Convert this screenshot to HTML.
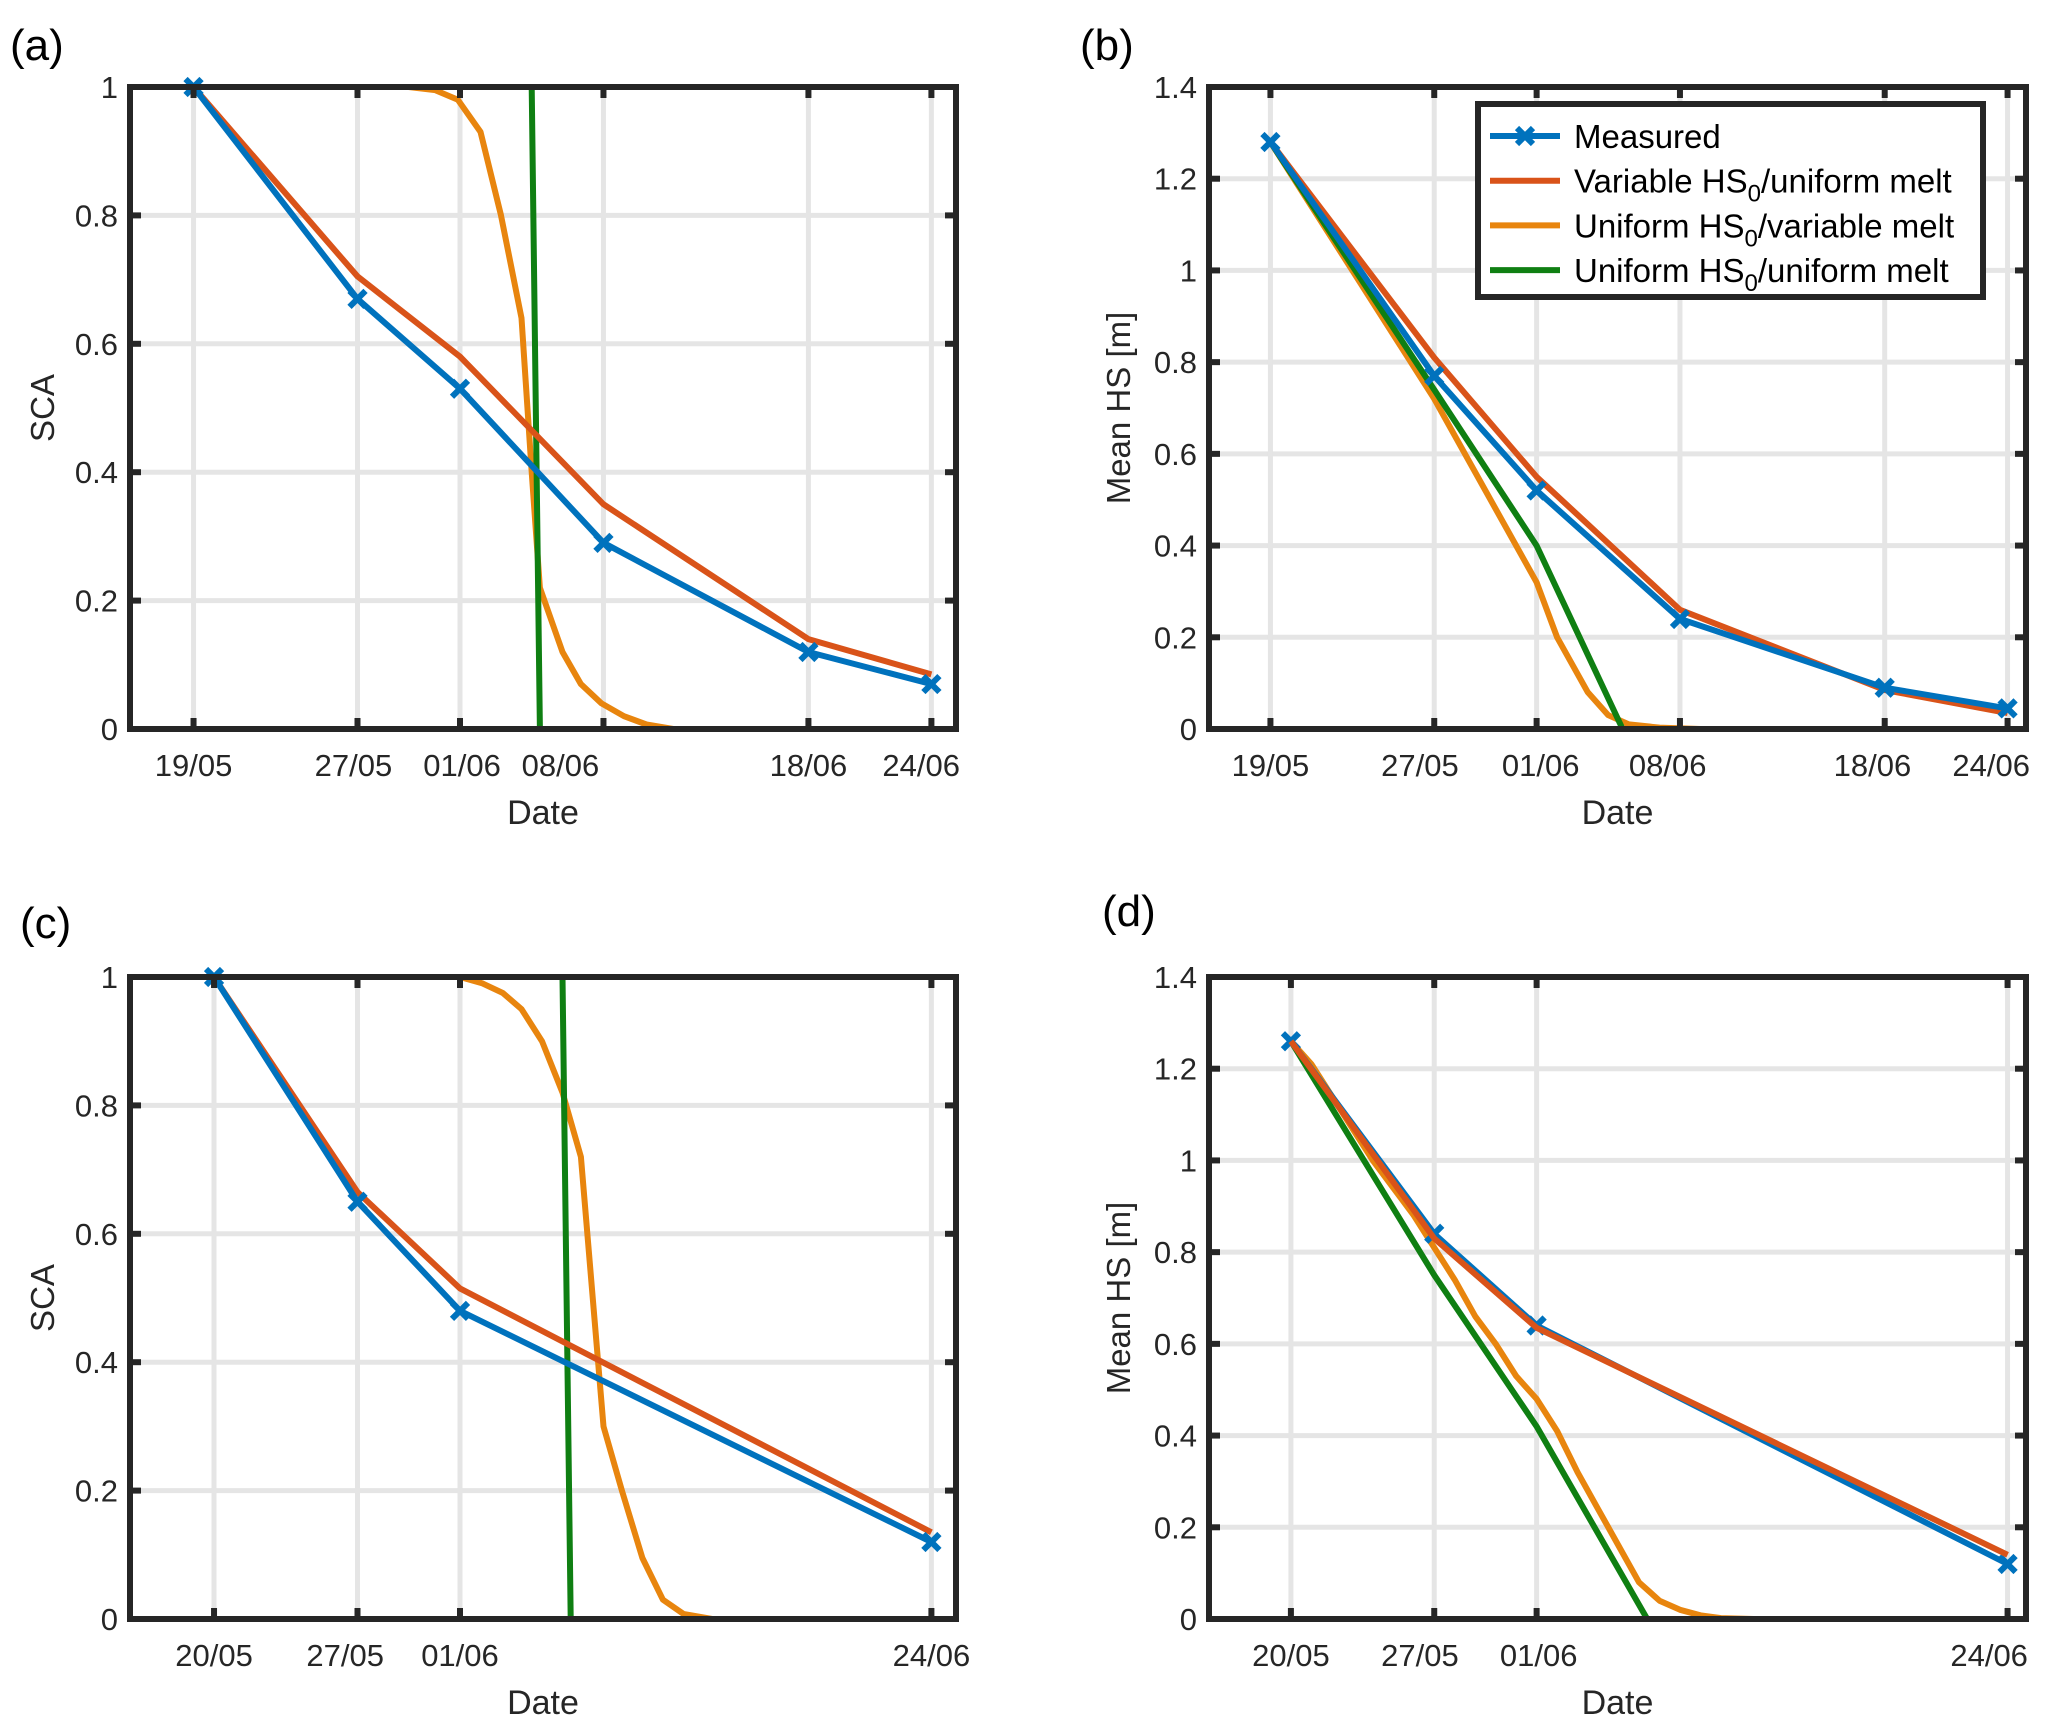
<!DOCTYPE html>
<html><head><meta charset="utf-8">
<style>
html,body{margin:0;padding:0;background:#fff;}
svg{display:block;font-family:"Liberation Sans",Arial,sans-serif;}
</style></head>
<body>
<svg id="fig" width="2067" height="1733" viewBox="0 0 2067 1733" xmlns="http://www.w3.org/2000/svg"></svg>
<script>
// ---- data (x in days since 19/05) ----
const aMeasDays=[0,8,13,20,30,36];
const aMeas=[1,0.67,0.53,0.29,0.12,0.07];
const aVar=[1,0.705,0.58,0.35,0.14,0.085];
const aOrDays=[0,10.5,11.8,12.9,14,15,16,16.5,16.9,18,18.9,19.9,21,22.1,23.4,36];
const aOr=[1,1,0.995,0.98,0.93,0.8,0.64,0.4,0.22,0.12,0.07,0.04,0.02,0.007,0,0];
const aGrDays=[0,16.5,16.9,36];
const aGr=[1,1,0,0];
const aTickDays=[0,8,13,20,30,36];
const aTickLabels=["19/05","27/05","01/06","08/06","18/06","24/06"];
const aLabelDays=[0,7.8,13.1,17.9,30,35.5];

const bMeas=[1.28,0.77,0.52,0.24,0.09,0.045];
const bVar=[1.28,0.81,0.55,0.26,0.085,0.035];
const bOrDays=[0,8,13,14,15.5,16.5,17.5,19,21,36];
const bOr=[1.28,0.72,0.32,0.2,0.08,0.03,0.01,0.003,0,0];
const bGrDays=[0,8,13,17.2];
const bGr=[1.28,0.74,0.4,0];
const bLabelDays=[0,7.3,13.2,19.4,29.4,35.2];

const cMeasDays=[1,8,13,36];
const cMeas=[1,0.65,0.48,0.12];
const cVar=[1,0.665,0.515,0.135];
const cOrDays=[1,13,14.1,15.1,16,17,18,18.9,20,20.9,21.9,22.9,23.9,25.3,37];
const cOr=[1,1,0.99,0.975,0.95,0.9,0.82,0.72,0.3,0.2,0.095,0.03,0.008,0,0];
const cGrDays=[1,18,18.4,36];
const cGr=[1,1,0,0];
const cTickDays=[1,8,13,36];
const cTickLabels=["20/05","27/05","01/06","24/06"];
const cLabelDays=[1,7.4,13,36];

const dMeas=[1.26,0.84,0.64,0.12];
const dVar=[1.26,0.83,0.635,0.14];
const dOrDays=[1,2,3,4,5,6,7,8,9,10,11,12,13,14,15,16,17,18,19,20,21,22,23.6,37];
const dOr=[1.26,1.21,1.14,1.07,1.0,0.94,0.88,0.81,0.74,0.66,0.6,0.53,0.48,0.41,0.32,0.24,0.16,0.08,0.04,0.02,0.008,0.002,0,0];
const dGrDays=[1,8,13,18.4];
const dGr=[1.26,0.75,0.42,0];
const dLabelDays=[1,7.3,13.1,35.1];

const scaTicks=[0,0.2,0.4,0.6,0.8,1];
const scaTickLabels=["0","0.2","0.4","0.6","0.8","1"];
const hsTicks=[0,0.2,0.4,0.6,0.8,1,1.2,1.4];
const hsTickLabels=["0","0.2","0.4","0.6","0.8","1","1.2","1.4"];

const C={blue:"#0072BD",red:"#D95319",orange:"#E8850E",green:"#0F7F12",axis:"#262626",grid:"#e5e5e5"};
const NS="http://www.w3.org/2000/svg";
const svg=document.getElementById('fig');
function el(tag,attrs,parent,text){const e=document.createElementNS(NS,tag);for(const k in attrs)e.setAttribute(k,attrs[k]);if(text!==undefined)e.textContent=text;(parent||svg).appendChild(e);return e;}

function panel(id,box,xdom,ydom,yTicks,yLabels,xTicks,xLabels,xLabelDays,ylab,letter,letterPos,series){
  const g=el('g',{});
  
  
  const X=d=>box.L+(d-xdom[0])/(xdom[1]-xdom[0])*(box.R-box.L);
  const Y=v=>box.B-(v-ydom[0])/(ydom[1]-ydom[0])*(box.B-box.T);
  yTicks.forEach(v=>{const l=el('line',{x1:box.L,x2:box.R,y1:Y(v),y2:Y(v),stroke:C.grid,'stroke-width':5},g);
    });
  xTicks.forEach(d=>{const l=el('line',{x1:X(d),x2:X(d),y1:box.T,y2:box.B,stroke:C.grid,'stroke-width':5},g);
    });
  series.forEach(s=>{
    const pts=s.x.map((d,i)=>X(d).toFixed(1)+','+Y(s.y[i]).toFixed(1)).join(' ');
    const p=el('polyline',{points:pts,fill:'none',stroke:s.c,'stroke-width':6,'stroke-linejoin':'round'},g);
    
    if(s.marker){s.x.forEach((d,i)=>{const cx=X(d),cy=Y(s.y[i]),r=8;
      const m=el('path',{d:`M${cx-r},${cy-r}L${cx+r},${cy+r}M${cx-r},${cy+r}L${cx+r},${cy-r}`,stroke:s.c,'stroke-width':6,fill:'none'},g);
      });}
  });
  const f=el('rect',{x:box.L,y:box.T,width:box.R-box.L,height:box.B-box.T,fill:'none',stroke:C.axis,'stroke-width':6},g);
  
  yTicks.forEach((v,i)=>{
    el('line',{x1:box.L,x2:box.L+11,y1:Y(v),y2:Y(v),stroke:C.axis,'stroke-width':6},g);
    el('line',{x1:box.R-11,x2:box.R,y1:Y(v),y2:Y(v),stroke:C.axis,'stroke-width':6},g);
    const t=el('text',{x:box.L-12,y:Y(v)+11,'text-anchor':'end','font-size':31,fill:C.axis},g,yLabels[i]);
    
  });
  xTicks.forEach((d,i)=>{
    el('line',{x1:X(d),x2:X(d),y1:box.B-11,y2:box.B,stroke:C.axis,'stroke-width':6},g);
    el('line',{x1:X(d),x2:X(d),y1:box.T,y2:box.T+11,stroke:C.axis,'stroke-width':6},g);
    const t=el('text',{x:X(xLabelDays[i]),y:box.B+47,'text-anchor':'middle','font-size':31,fill:C.axis},g,xLabels[i]);
    
  });
  const xl=el('text',{x:(box.L+box.R)/2,y:box.B+95,'text-anchor':'middle','font-size':34,fill:C.axis},g,'Date');
  
  const yx=ylab.x, yy=(box.T+box.B)/2;
  const yl=el('text',{x:yx,y:yy,'text-anchor':'middle','font-size':33,fill:C.axis,transform:`rotate(-90 ${yx} ${yy})`},g,ylab.t);
  
  const lt=el('text',{x:letterPos[0],y:letterPos[1],'font-size':44,fill:'#000'},g,letter);
  
}

const boxA={L:130,R:956,T:87,B:729}, boxB={L:1209,R:2026,T:87,B:729};
const boxC={L:130,R:956,T:977,B:1619}, boxD={L:1209,R:2026,T:977,B:1619};
const domAC=[-3.1,37.2], domBD=[-3,36.9];

panel('a',boxA,domAC,[0,1],scaTicks,scaTickLabels,aTickDays,aTickLabels,aLabelDays,{x:54,t:'SCA'},'(a)',[10,60],[
  {x:aOrDays,y:aOr,c:C.orange,name:'uniform-hs0-variable-melt-line'},
  {x:aGrDays,y:aGr,c:C.green,name:'uniform-hs0-uniform-melt-line'},
  {x:aMeasDays,y:aVar,c:C.red,name:'variable-hs0-uniform-melt-line'},
  {x:aMeasDays,y:aMeas,c:C.blue,name:'measured-line',marker:true}]);
panel('b',boxB,domBD,[0,1.4],hsTicks,hsTickLabels,aTickDays,aTickLabels,bLabelDays,{x:1130,t:'Mean HS [m]'},'(b)',[1080,60],[
  {x:bOrDays,y:bOr,c:C.orange,name:'uniform-hs0-variable-melt-line'},
  {x:bGrDays,y:bGr,c:C.green,name:'uniform-hs0-uniform-melt-line'},
  {x:aMeasDays,y:bVar,c:C.red,name:'variable-hs0-uniform-melt-line'},
  {x:aMeasDays,y:bMeas,c:C.blue,name:'measured-line',marker:true}]);
panel('c',boxC,domAC,[0,1],scaTicks,scaTickLabels,cTickDays,cTickLabels,cLabelDays,{x:54,t:'SCA'},'(c)',[20,938],[
  {x:cOrDays,y:cOr,c:C.orange,name:'uniform-hs0-variable-melt-line'},
  {x:cGrDays,y:cGr,c:C.green,name:'uniform-hs0-uniform-melt-line'},
  {x:cMeasDays,y:cVar,c:C.red,name:'variable-hs0-uniform-melt-line'},
  {x:cMeasDays,y:cMeas,c:C.blue,name:'measured-line',marker:true}]);
panel('d',boxD,domBD,[0,1.4],hsTicks,hsTickLabels,cTickDays,cTickLabels,dLabelDays,{x:1130,t:'Mean HS [m]'},'(d)',[1102,926],[
  {x:dOrDays,y:dOr,c:C.orange,name:'uniform-hs0-variable-melt-line'},
  {x:dGrDays,y:dGr,c:C.green,name:'uniform-hs0-uniform-melt-line'},
  {x:cMeasDays,y:dMeas,c:C.blue,name:'measured-line',marker:true},
  {x:cMeasDays,y:dVar,c:C.red,name:'variable-hs0-uniform-melt-line'}]);

const lg=el('g',{});


el('rect',{x:1478,y:104,width:505,height:193,fill:'#fff',stroke:C.axis,'stroke-width':6},lg);
const legNames=['Measured','Variable HS','Uniform HS','Uniform HS'];
const legTail=['','/uniform melt','/variable melt','/uniform melt'];
const legColors=[C.blue,C.red,C.orange,C.green];
legNames.forEach((n,i)=>{
  const y=136+i*44.7;
  const e=el('g',{},lg);
  
  
  el('line',{x1:1490,x2:1560,y1:y,y2:y,stroke:legColors[i],'stroke-width':6},e);
  if(i===0){el('path',{d:`M${1517},${y-8}L${1533},${y+8}M${1517},${y+8}L${1533},${y-8}`,stroke:C.blue,'stroke-width':6},e);}
  const t=el('text',{x:1574,y:y+12,'font-size':33,fill:'#000'},e);
  el('tspan',{},t,n);
  if(i>0){el('tspan',{dy:9,'font-size':24},t,'0');el('tspan',{dy:-9},t,legTail[i]);}
});
</script>
</body></html>
